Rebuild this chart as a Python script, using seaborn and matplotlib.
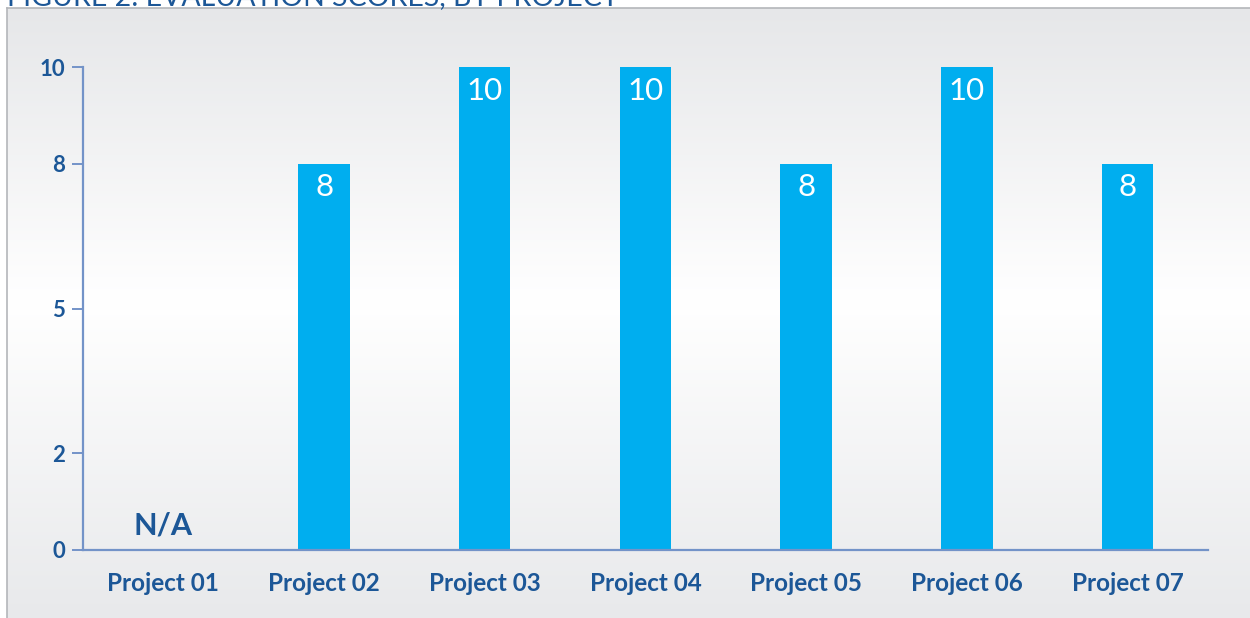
import numpy as np
import pandas as pd
import matplotlib
matplotlib.use("Agg")
import matplotlib.pyplot as plt
import seaborn as sns

PROJECTS = ["Project 01", "Project 02", "Project 03", "Project 04",
            "Project 05", "Project 06", "Project 07"]
SCORES = [np.nan, 8, 10, 10, 8, 10, 8]
Y_TICKS = [0, 2, 5, 8, 10]
TITLE = "FIGURE 2: EVALUATION SCORES, BY PROJECT"

BAR = "#00aeef"
NAVY = "#1c5797"
AXIS = "#7393c8"

sns.set_theme(style="white")
plt.rcParams["font.family"] = ["Lato", "DejaVu Sans"]

df = pd.DataFrame({"project": PROJECTS, "score": SCORES})

W, H = 1250, 618
fig = plt.figure(figsize=(W / 100, H / 100), dpi=100)
fig.patch.set_facecolor("white")

# panel with grey-white-grey vertical gradient
bg = fig.add_axes([7 / W, 0, 1 - 7 / W, (H - 8) / H], zorder=0)
ys = np.linspace(0, 1, 256)
top = np.array([0.902, 0.906, 0.914])
mid = np.array([1.0, 1.0, 1.0])
bot = np.array([0.910, 0.914, 0.922])
cols = []
for t in ys:
    if t < 0.48:
        f = t / 0.48
        cols.append(top * (1 - f) + mid * f)
    else:
        f = (t - 0.48) / 0.52
        cols.append(mid * (1 - f) + bot * f)
grad = np.array(cols)[:, None, :]
bg.imshow(grad, aspect="auto", extent=[0, 1, 1, 0])
bg.set_xlim(0, 1)
bg.set_ylim(1, 0)
bg.set_xticks([])
bg.set_yticks([])
for s in ["right", "bottom"]:
    bg.spines[s].set_visible(False)
for s in ["left", "top"]:
    bg.spines[s].set_color("#b4b6ba")
    bg.spines[s].set_linewidth(1.2)

# title is cropped at the top edge, as in the source image
fig.text(7 / W, 1 - 5 / H, TITLE, color=NAVY, fontsize=20.5,
         ha="left", va="baseline")

ax = fig.add_axes([83 / W, 68 / H, 1125 / W, 483 / H], zorder=1)
ax.patch.set_alpha(0)
sns.barplot(data=df, x="project", y="score", order=PROJECTS, color=BAR,
            width=0.32, errorbar=None, saturation=1, ax=ax,
            edgecolor="none", linewidth=0)

for i, v in enumerate(SCORES):
    if np.isnan(v):
        ax.text(i, 0.32, "N/A", color=NAVY, fontsize=22, fontweight="bold",
                ha="center", va="baseline")
    else:
        ax.text(i, v - 0.2, f"{v:g}", color="white", fontsize=22.5,
                ha="center", va="top")

ax.set_xlim(-0.5, len(PROJECTS) - 0.5)
ax.set_ylim(0, 10)
ax.set_yticks(Y_TICKS)
ax.set_xlabel("")
ax.set_ylabel("")
for s in ["top", "right"]:
    ax.spines[s].set_visible(False)
for s in ["left", "bottom"]:
    ax.spines[s].set_color(AXIS)
    ax.spines[s].set_linewidth(1.6)
ax.tick_params(axis="y", length=8, width=1.4, color=AXIS, pad=5,
               labelcolor=NAVY, labelsize=16, left=True)
ax.tick_params(axis="x", length=0, pad=16, labelcolor=NAVY, labelsize=17.5)
for lab in ax.get_xticklabels() + ax.get_yticklabels():
    lab.set_fontweight("bold")

fig.savefig("out.png", dpi=100)
